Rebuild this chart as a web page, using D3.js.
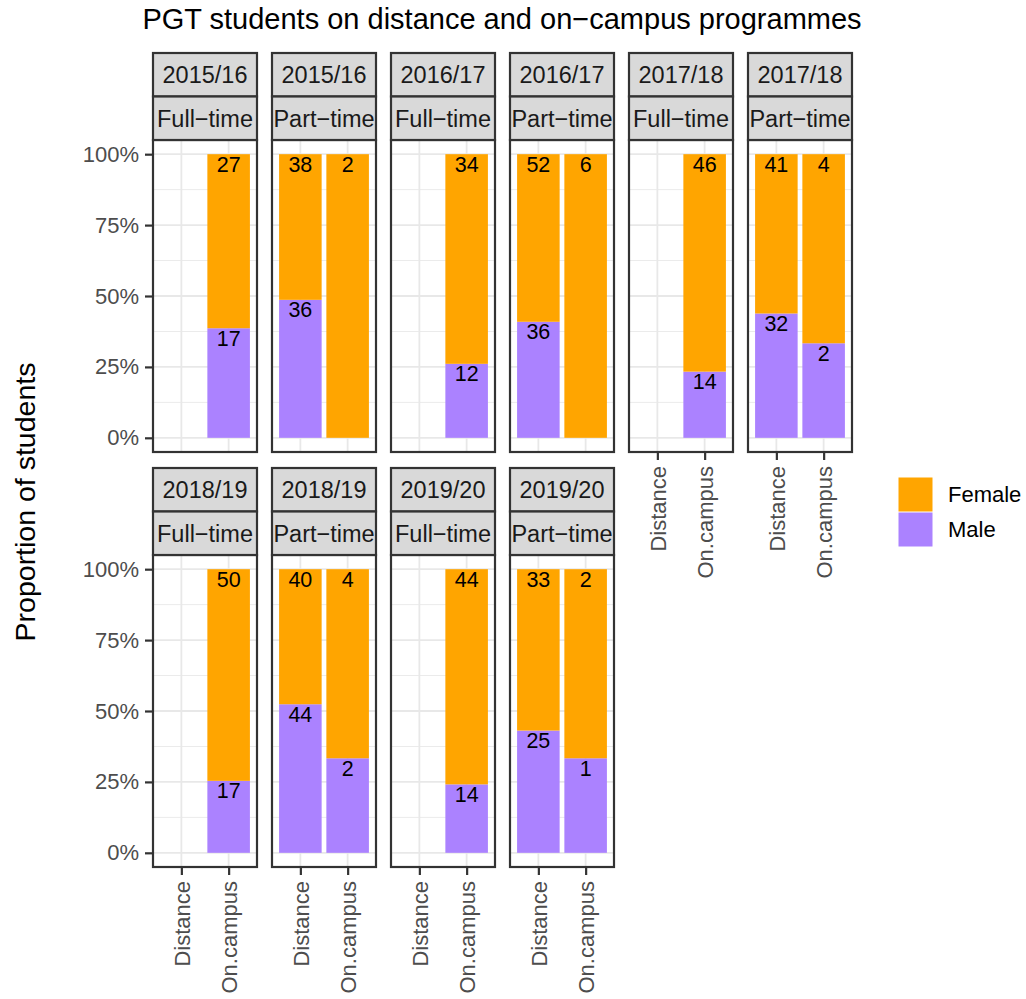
<!DOCTYPE html>
<html>
<head>
<meta charset="utf-8">
<script src="https://cdn.jsdelivr.net/npm/d3@7"></script>
<style>
  html, body { margin: 0; padding: 0; background: #fff; }
  svg text { font-family: "Liberation Sans", Arial, sans-serif; }
</style>
</head>
<body>
<div id="chart"></div>
<script>
// Facet panels: academic year and mode of attendance
const panelYears = ["2015/16", "2015/16", "2016/17", "2016/17", "2017/18", "2017/18", "2018/19", "2018/19", "2019/20", "2019/20"];
const panelModes = ["Full\u2212time", "Part\u2212time", "Full\u2212time", "Part\u2212time", "Full\u2212time", "Part\u2212time", "Full\u2212time", "Part\u2212time", "Full\u2212time", "Part\u2212time"];

// Programme types on the x axis
const programmes = ["Distance", "On.campus"];
const genders = ["Female", "Male"];

// Student counts per panel
const distanceFemale = [0, 38, 0, 52, 0, 41, 0, 40, 0, 33];
const distanceMale   = [0, 36, 0, 36, 0, 32, 0, 44, 0, 25];
const campusFemale   = [27, 2, 34, 6, 46, 4, 50, 4, 44, 2];
const campusMale     = [17, 0, 12, 0, 14, 2, 17, 2, 14, 1];

const yTicks = [0, 0.25, 0.5, 0.75, 1];
const yMinor = [0.125, 0.375, 0.625, 0.875];

const colors = { Female: "#FFA500", Male: "#AB82FF" };

// Layout
const W = 1026, H = 999;
const ncol = 6;
const colX0 = 153, colStep = 119, panelW = 104;
const rowTop = [53, 468];          // top of first strip
const stripH = 43.5;
const panelH = 312;

const svg = d3.select("#chart").append("svg")
  .attr("width", W).attr("height", H)
  .style("display", "block");

svg.append("rect").attr("width", W).attr("height", H).attr("fill", "#fff");

// Title
svg.append("text")
  .attr("x", 502).attr("y", 29)
  .attr("text-anchor", "middle")
  .attr("font-size", 29)
  .attr("fill", "#000")
  .text("PGT students on distance and on\u2212campus programmes");

// Y axis title
svg.append("text")
  .attr("transform", "translate(35,502) rotate(-90)")
  .attr("text-anchor", "middle")
  .attr("font-size", 28.5)
  .attr("fill", "#000")
  .text("Proportion of students");

// Build rows of stacked segments for each panel
function panelData(i) {
  const out = [];
  const pairs = [
    { prog: "Distance", f: distanceFemale[i], m: distanceMale[i] },
    { prog: "On.campus", f: campusFemale[i], m: campusMale[i] }
  ];
  pairs.forEach(p => {
    const total = p.f + p.m;
    if (total === 0) return;
    const mp = p.m / total;
    // Male stacked at the bottom, Female on top
    if (p.m > 0) out.push({ prog: p.prog, gender: "Male", n: p.m, y0: 0, y1: mp });
    if (p.f > 0) out.push({ prog: p.prog, gender: "Female", n: p.f, y0: mp, y1: 1 });
  });
  return out;
}

const nPanels = panelYears.length;

for (let i = 0; i < nPanels; i++) {
  const col = i % ncol, row = Math.floor(i / ncol);
  const x0 = colX0 + col * colStep;
  const sTop = rowTop[row];
  const pTop = sTop + 2 * stripH;
  const pBot = pTop + panelH;

  const x = d3.scalePoint().domain(programmes).range([x0, x0 + panelW]).padding(0.6);
  const bw = x.step() * 0.9;
  const y = d3.scaleLinear().domain([-0.05, 1.05]).range([pBot, pTop]);

  const g = svg.append("g");

  // panel background
  g.append("rect").attr("x", x0).attr("y", pTop).attr("width", panelW).attr("height", panelH).attr("fill", "#fff");

  // grid lines
  g.selectAll(".minor").data(yMinor).join("line")
    .attr("x1", x0).attr("x2", x0 + panelW)
    .attr("y1", d => y(d)).attr("y2", d => y(d))
    .attr("stroke", "#EBEBEB").attr("stroke-width", 1);
  g.selectAll(".major").data(yTicks).join("line")
    .attr("x1", x0).attr("x2", x0 + panelW)
    .attr("y1", d => y(d)).attr("y2", d => y(d))
    .attr("stroke", "#E8E8E8").attr("stroke-width", 1.8);
  g.selectAll(".vgrid").data(programmes).join("line")
    .attr("x1", d => x(d)).attr("x2", d => x(d))
    .attr("y1", pTop).attr("y2", pBot)
    .attr("stroke", "#E8E8E8").attr("stroke-width", 1.8);

  const segs = panelData(i);

  // bars
  g.selectAll("rect.bar").data(segs).join("rect")
    .attr("class", "bar")
    .attr("x", d => x(d.prog) - bw / 2)
    .attr("width", bw)
    .attr("y", d => y(d.y1))
    .attr("height", d => y(d.y0) - y(d.y1))
    .attr("fill", d => colors[d.gender]);

  // count labels, hanging from the top of each segment
  g.selectAll("text.lab").data(segs).join("text")
    .attr("class", "lab")
    .attr("x", d => x(d.prog))
    .attr("y", d => y(d.y1))
    .attr("dy", "0.82em")
    .attr("text-anchor", "middle")
    .attr("font-size", 21.5)
    .attr("fill", "#000")
    .text(d => d.n);

  // panel border
  g.append("rect").attr("x", x0).attr("y", pTop).attr("width", panelW).attr("height", panelH)
    .attr("fill", "none").attr("stroke", "#333333").attr("stroke-width", 2.2);

  // strips
  [panelYears[i], panelModes[i]].forEach((lab, k) => {
    const sy = sTop + k * stripH;
    g.append("rect").attr("x", x0).attr("y", sy).attr("width", panelW).attr("height", stripH)
      .attr("fill", "#D9D9D9").attr("stroke", "#333333").attr("stroke-width", 2.2);
    g.append("text").attr("x", x0 + panelW / 2).attr("y", sy + stripH / 2)
      .attr("dy", "0.36em").attr("text-anchor", "middle")
      .attr("font-size", 23.5).attr("fill", "#1A1A1A").text(lab);
  });

  // y axis on first column
  if (col === 0) {
    const ax = g.append("g").attr("transform", `translate(${x0},0)`)
      .call(d3.axisLeft(y).tickValues(yTicks).tickFormat(d3.format(".0%")).tickSize(8).tickPadding(6));
    ax.select(".domain").remove();
    ax.selectAll(".tick line").attr("stroke", "#333333").attr("stroke-width", 2.2);
    ax.selectAll(".tick text").attr("font-size", 22).attr("fill", "#4D4D4D")
      .attr("font-family", "'Liberation Sans', Arial, sans-serif");
  }

  // x axis where no panel sits below
  const below = i + ncol;
  if (below >= nPanels) {
    const ax = g.append("g").attr("transform", `translate(0,${pBot})`)
      .call(d3.axisBottom(x).tickSize(8).tickPadding(6));
    ax.select(".domain").remove();
    ax.selectAll(".tick line").attr("stroke", "#333333").attr("stroke-width", 2.2);
    ax.selectAll(".tick text")
      .attr("font-size", 22).attr("fill", "#4D4D4D")
      .attr("font-family", "'Liberation Sans', Arial, sans-serif")
      .attr("text-anchor", "end")
      .attr("x", 0).attr("y", 0).attr("dy", "0.35em")
      .attr("transform", "translate(0,14) rotate(-90)");
  }
}

// Legend
const legend = svg.append("g").attr("transform", "translate(898,477)");
const keyS = 35;
genders.forEach((gname, k) => {
  legend.append("rect").attr("x", 0).attr("y", k * keyS).attr("width", keyS).attr("height", keyS)
    .attr("fill", "#fff");
  legend.append("rect").attr("x", 0.5).attr("y", k * keyS + 0.5).attr("width", keyS - 1).attr("height", keyS - 1)
    .attr("fill", colors[gname]);
  legend.append("text").attr("x", keyS + 15).attr("y", k * keyS + keyS / 2)
    .attr("dy", "0.36em").attr("font-size", 22).attr("fill", "#000").text(gname);
});
</script>
</body>
</html>
